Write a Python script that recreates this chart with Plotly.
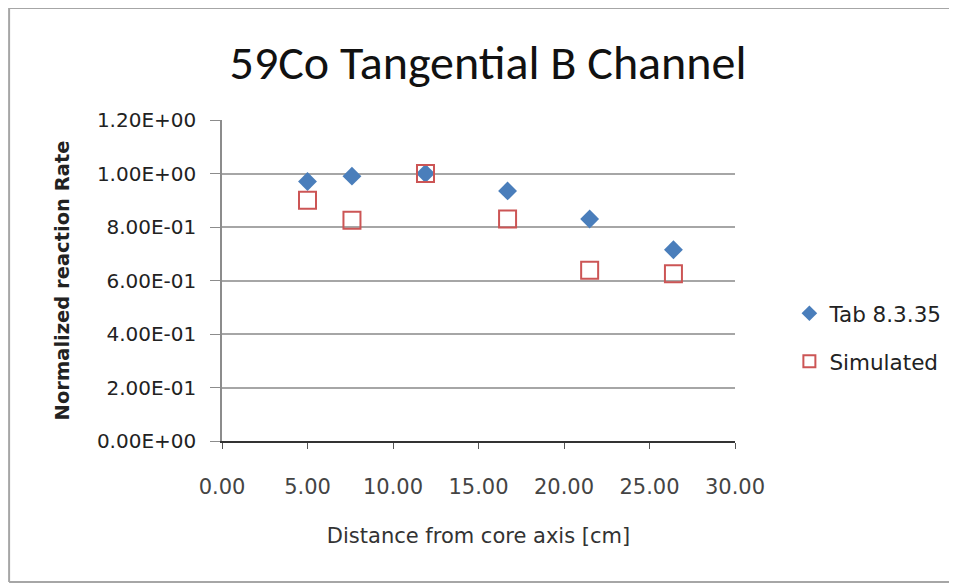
import plotly.graph_objects as go

distance_cm = [5.0, 7.6, 11.9, 16.7, 21.5, 26.4]
tab_values = [0.97, 0.99, 1.0, 0.935, 0.83, 0.715]
simulated_values = [0.90, 0.825, 1.0, 0.83, 0.638, 0.625]

x_tick_vals = [0, 5, 10, 15, 20, 25, 30]
x_tick_text = ["0.00", "5.00", "10.00", "15.00", "20.00", "25.00", "30.00"]
y_tick_vals = [0, 0.2, 0.4, 0.6, 0.8, 1.0, 1.2]
y_tick_text = ["0.00E+00", "2.00E-01", "4.00E-01", "6.00E-01", "8.00E-01", "1.00E+00", "1.20E+00"]

TITLE_FONT = "Carlito, Lato, 'Open Sans', sans-serif"
FONT = "'DejaVu Sans', sans-serif"

fig = go.Figure()
fig.add_trace(go.Scatter(
    x=distance_cm, y=tab_values, mode="markers", name="Tab 8.3.35",
    legendgroup="a",
    marker=dict(symbol="diamond", size=14.5, color="#4a7ebb", line=dict(width=0)),
))
fig.add_trace(go.Scatter(
    x=distance_cm, y=simulated_values, mode="markers", name="Simulated",
    legendgroup="b",
    marker=dict(symbol="square-open", size=17, color="#cc5555", line=dict(width=2, color="#cc5555")),
))

border = dict(color="#a6a6a6", width=2)
BL, BR, BB, BT = -0.415, 1.75, -0.439, 1.349
fig.update_layout(
    width=957, height=584,
    margin=dict(l=214, r=230, t=112, b=151),
    paper_bgcolor="white", plot_bgcolor="white",
    font=dict(family=FONT, color="#222"),
    title=dict(text="59Co Tangential B Channel", x=0.5016, xanchor="center", y=0.9075, yanchor="middle",
               font=dict(size=48, color="#111", family=TITLE_FONT)),
    showlegend=True,
    legend=dict(x=1.106, xanchor="left", y=0.323, yanchor="middle",
                font=dict(size=21.5, color="#222", family=FONT), tracegroupgap=17,
                itemsizing="constant", bgcolor="rgba(0,0,0,0)"),
    shapes=[
        dict(type="line", xref="paper", yref="paper", x0=BL, x1=BL, y0=BB, y1=BT, line=border, layer="below"),
        dict(type="line", xref="paper", yref="paper", x0=BL, x1=BR, y0=BT, y1=BT, line=border, layer="below"),
        dict(type="line", xref="paper", yref="paper", x0=BL, x1=BR, y0=BB, y1=BB, line=border, layer="below"),
    ],
)

fig.update_xaxes(
    range=[0, 30], tickvals=x_tick_vals, ticktext=x_tick_text,
    showgrid=False, zeroline=False, showline=True, linecolor="#333", linewidth=2,
    ticks="outside", ticklen=6, tickcolor="#555", tickwidth=1,
    ticklabelstandoff=20,
    tickfont=dict(size=21, color="#444"),
    title=dict(text="Distance from core axis [cm]", font=dict(size=21, color="#333"), standoff=30),
)
fig.update_yaxes(
    range=[0, 1.2], tickvals=y_tick_vals, ticktext=y_tick_text,
    showgrid=True, gridcolor="#a6a6a6", gridwidth=1.5, zeroline=False,
    showline=True, linecolor="#8c8c8c", linewidth=1.5,
    ticks="outside", ticklen=10, tickcolor="#8c8c8c",
    ticklabelstandoff=10,
    tickfont=dict(size=20, color="#222"),
    title=dict(text="<b>Normalized reaction Rate</b>", font=dict(size=19.5, color="#222"), standoff=22),
)

fig.write_html("out.html")
